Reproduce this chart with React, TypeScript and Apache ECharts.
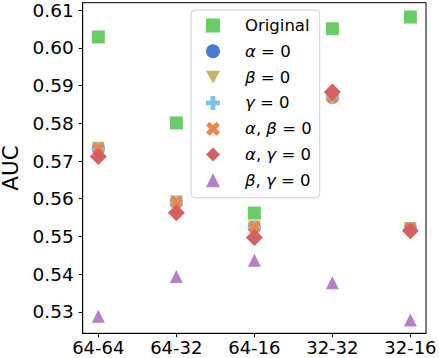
import React, { useEffect, useRef } from "react";
import * as echarts from "echarts";

const categories = ["64-64", "64-32", "64-16", "32-32", "32-16"];
const yTicks = [0.53, 0.54, 0.55, 0.56, 0.57, 0.58, 0.59, 0.6, 0.61];

const seriesNames = ["Original", "α = 0", "β = 0", "γ = 0", "α, β = 0", "α, γ = 0", "β, γ = 0"];
const original = [0.6029, 0.5801, 0.5562, 0.6051, 0.6082];
const alpha0 = [0.5733, 0.5590, 0.5524, 0.5869, 0.5520];
const beta0 = [0.5734, 0.5591, 0.5525, 0.5870, 0.5521];
const gamma0 = [0.5732, 0.5589, 0.5524, 0.5868, 0.5520];
const alphaBeta0 = [0.5733, 0.5591, 0.5525, 0.5870, 0.5521];
const alphaGamma0 = [0.5712, 0.5563, 0.5497, 0.5883, 0.5515];
const betaGamma0 = [0.5288, 0.5394, 0.5437, 0.5377, 0.5278];

const colors = ["#6acc64", "#4878d0", "#c9b26a", "#7fc3e4", "#ee854a", "#d65f5f", "#b77fcb"];

function plusPath(rotate: boolean): string {
  const a = 0.33;
  const pts: [number, number][] = [
    [a, a], [a, 1], [-a, 1], [-a, a], [-1, a], [-1, -a],
    [-a, -a], [-a, -1], [a, -1], [a, -a], [1, -a], [1, a],
  ];
  const r = pts.map(([x, y]) => {
    if (!rotate) return [x, y];
    const c = Math.SQRT1_2;
    return [(x - y) * c, (x + y) * c];
  });
  return "path://" + r.map((p, i) => `${i === 0 ? "M" : "L"}${p[0].toFixed(3)},${p[1].toFixed(3)}`).join(" ") + " Z";
}

const symbols = [
  "rect",
  "circle",
  "path://M0,0 L2,0 L1,1.8 Z",
  plusPath(false),
  plusPath(true),
  "diamond",
  "triangle",
];
const sizes = [13, 13, 13, 13, 13, 17, 13];
const allData = [original, alpha0, beta0, gamma0, alphaBeta0, alphaGamma0, betaGamma0];

const FONT = "DejaVu Sans";

function legendLabel(name: string): string {
  if (name === "Original") return "{t|Original}";
  return name
    .split("")
    .map((ch) => ("αβγ".includes(ch) ? `{g|${ch}}` : ch === " " ? "{t| }" : `{t|${ch}}`))
    .join("");
}

export default function App() {
  const ref = useRef<HTMLDivElement>(null);
  useEffect(() => {
    if (!ref.current) return;
    const chart = echarts.init(ref.current, undefined, { renderer: "svg" });
    chart.setOption({
      animation: false,
      textStyle: { fontFamily: FONT },
      grid: {
        left: 82.7, top: 2.7, right: 13, bottom: 24.7,
        containLabel: false, outerBoundsMode: "none",
        show: true, borderColor: "#000", borderWidth: 1, backgroundColor: "transparent",
      },
      xAxis: {
        type: "value",
        min: -0.2,
        max: 4.2,
        axisLine: { show: true, onZero: false, lineStyle: { color: "#000", width: 1 } },
        splitLine: { show: false },
        axisTick: { show: true, inside: false, customValues: [0, 1, 2, 3, 4], length: 4, lineStyle: { color: "#000", width: 1 } },
        axisLabel: {
          customValues: [0, 1, 2, 3, 4],
          formatter: (v: number) => categories[Math.round(v)] ?? "",
          fontSize: 18,
          lineHeight: 14,
          color: "#000",
          margin: 7.5,
          fontFamily: FONT,
        },
      },
      yAxis: {
        type: "value",
        min: 0.5243,
        max: 0.6120,
        name: "AUC",
        nameLocation: "middle",
        nameGap: 57,
        nameTextStyle: { fontSize: 21.5, lineHeight: 20, color: "#000", fontFamily: FONT },
        axisLine: { show: true, onZero: false, lineStyle: { color: "#000", width: 1 } },
        splitLine: { show: false },
        axisTick: { show: true, inside: false, customValues: yTicks, length: 4, lineStyle: { color: "#000", width: 1 } },
        axisLabel: {
          customValues: yTicks,
          formatter: (v: number) => v.toFixed(2),
          fontSize: 18.5,
          color: "#000",
          margin: 9,
          fontFamily: FONT,
        },
      },
      legend: {
        orient: "vertical",
        left: 191,
        top: 10,
        padding: [7, 8, 9, 15],
        itemWidth: 14,
        itemHeight: 14,
        itemGap: 8.8,
        backgroundColor: "rgba(255,255,255,0.85)",
        borderColor: "#d0d0d0",
        borderWidth: 1,
        borderRadius: 4,
        data: seriesNames,
        formatter: legendLabel,
        textStyle: {
          fontSize: 16.5,
          color: "#000",
          fontFamily: FONT,
          lineHeight: 14,
          padding: [0, 0, 0, 20],
          rich: {
            t: { fontSize: 16.5, fontFamily: FONT, color: "#000", lineHeight: 14 },
            g: { fontSize: 16.5, fontFamily: FONT, fontStyle: "italic", color: "#000", lineHeight: 14 },
          },
        },
      },
      series: seriesNames.map((name, i) => ({
        name,
        type: "scatter",
        symbol: symbols[i],
        symbolSize: sizes[i],
        itemStyle: { color: colors[i], opacity: 1 },
        emphasis: { disabled: true },
        z: 2 + i,
        data: allData[i].map((v, j) => [j, v]),
      })),
    });
    return () => chart.dispose();
  }, []);
  return <div ref={ref} style={{ width: 439, height: 358, position: "absolute", left: 0, top: 0 }} />;
}
